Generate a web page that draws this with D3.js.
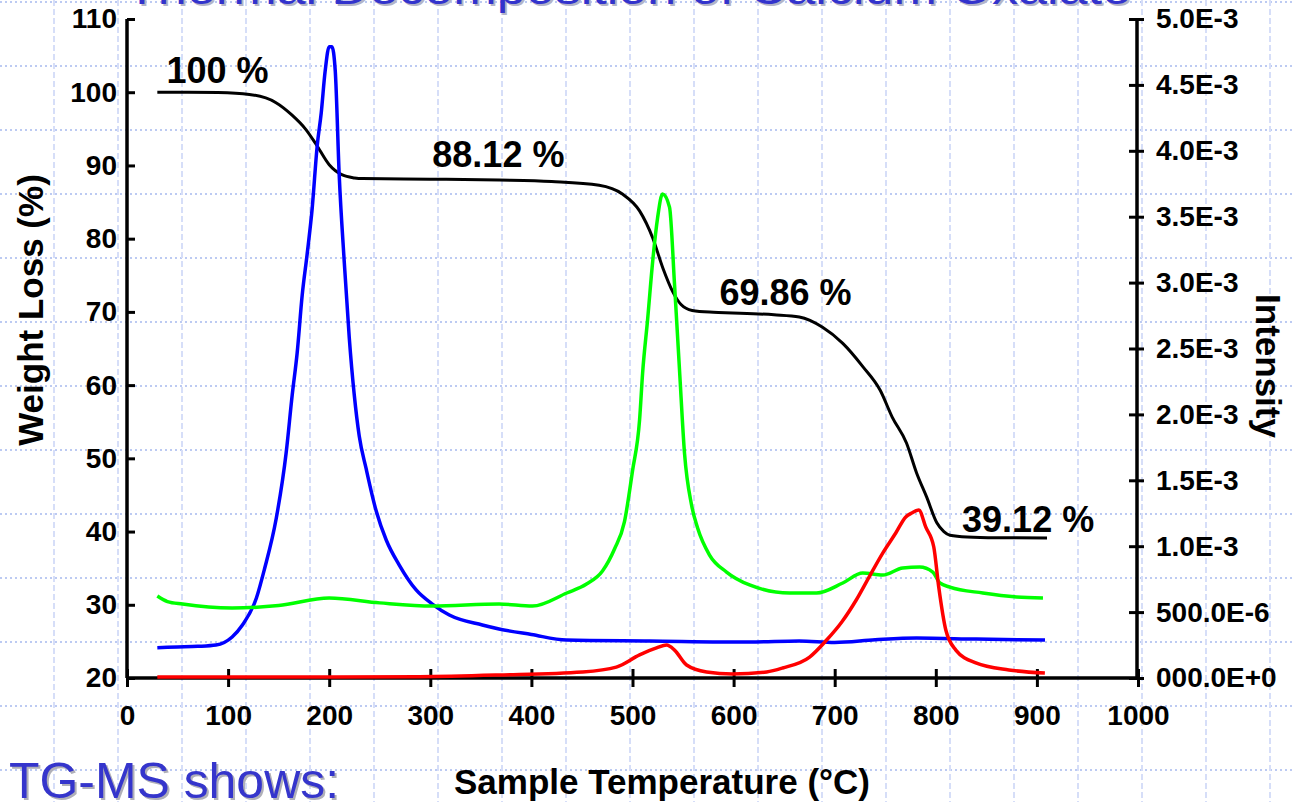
<!DOCTYPE html>
<html>
<head>
<meta charset="utf-8">
<script src="https://cdn.jsdelivr.net/npm/d3@7"></script>
<style>
  body { margin: 0; background: #fff; }
  svg { display: block; }
  text { font-family: "Liberation Sans", Arial, sans-serif; }
  .tick text { font-weight: bold; font-size: 28px; fill: #000; }
  .axis-label { font-weight: bold; font-size: 35px; }
  .pct { font-weight: bold; font-size: 36px; }
</style>
</head>
<body>
<svg id="chart" width="1293" height="802"></svg>
<script>
// TG curve: [temperature °C, weight %]
const tgData = [
  [30, 100.0], [60, 100.0], [90, 99.95], [121, 99.7], [147, 98.6], [163, 96.9],
  [177, 94.9], [187, 92.9], [200, 90.1], [213, 88.7], [225, 88.3], [233, 88.2],
  [300, 88.12], [368, 88.0], [420, 87.8], [467, 87.3], [490, 86.1], [507, 83.8],
  [520, 80.1], [530, 76.0], [540, 72.7], [548, 71.0], [559, 70.2], [580, 69.95],
  [599, 69.86], [640, 69.6], [665, 69.3], [688, 67.9], [708, 65.7], [728, 62.5],
  [745, 59.3], [757, 55.6], [771, 52.1], [781, 48.0], [791, 44.7], [801, 41.2],
  [808, 40.0], [814, 39.5], [831, 39.25], [860, 39.15], [910, 39.12]
];

// MS intensities, in units of 1E-3
const blueData = [
  [30, 0.23], [50, 0.235], [70, 0.24], [88, 0.25], [104, 0.311], [114, 0.40],
  [128, 0.607], [136, 0.827], [147.5, 1.206], [157.4, 1.707], [163.4, 2.147],
  [168.3, 2.466], [173.3, 2.906], [178.2, 3.217], [183.2, 3.566], [188.1, 4.036],
  [192.1, 4.287], [196, 4.605], [200, 4.79], [202.7, 4.79], [206, 4.605],
  [209.9, 3.816], [214.9, 3.156], [219.8, 2.587], [224.8, 2.147], [229.7, 1.836],
  [236.6, 1.586], [246.5, 1.267], [256.4, 1.047], [269.3, 0.857], [286, 0.668],
  [302, 0.561], [318.8, 0.478], [351.5, 0.402], [368, 0.372], [400, 0.33],
  [434.7, 0.288], [516.8, 0.281], [615.8, 0.273], [665, 0.281], [700, 0.27],
  [740, 0.29], [781, 0.303], [840, 0.295], [908, 0.288]
];

const greenData = [
  [30, 0.622], [40, 0.58], [55, 0.561], [104, 0.531], [150, 0.55], [200, 0.607],
  [250, 0.57], [302, 0.546], [368, 0.561], [401, 0.546], [435, 0.645],
  [454.5, 0.713], [470.3, 0.812], [482.2, 0.979], [492, 1.184], [500, 1.571],
  [507, 1.958], [510, 2.314], [515, 2.724], [520, 3.164], [524.8, 3.49],
  [529.7, 3.672], [536.6, 3.573], [541.6, 2.982], [546.5, 2.337], [551.5, 1.7],
  [558.4, 1.313], [564.4, 1.138], [576.2, 0.933], [593, 0.804], [615.8, 0.706],
  [655.4, 0.645], [682, 0.645], [708, 0.721], [727.7, 0.797], [747.5, 0.781],
  [767.3, 0.835], [784, 0.842], [797, 0.804], [804, 0.721], [813.9, 0.69],
  [846.5, 0.645], [880, 0.615], [906, 0.607]
];

const redData = [
  [30, 0.008], [200, 0.008], [289, 0.01], [368, 0.023], [450.5, 0.046], [484, 0.083],
  [507, 0.175], [523.8, 0.228], [533.7, 0.25], [541.6, 0.212], [553.5, 0.099],
  [573.3, 0.046], [599, 0.03], [632.7, 0.046], [648.5, 0.076], [675.2, 0.159],
  [692, 0.288], [707, 0.425], [721.3, 0.592], [734, 0.766], [747.5, 0.948],
  [760.4, 1.1], [770.3, 1.222], [776.2, 1.252], [783.2, 1.275], [790, 1.146],
  [798, 0.994], [802.9, 0.69], [809.9, 0.364], [819.8, 0.212], [839.6, 0.114],
  [872.3, 0.061], [907.9, 0.038]
];

const xTicks = [0, 100, 200, 300, 400, 500, 600, 700, 800, 900, 1000];
const leftTicks = [20, 30, 40, 50, 60, 70, 80, 90, 100, 110];
const rightTicks = [0, 0.5, 1.0, 1.5, 2.0, 2.5, 3.0, 3.5, 4.0, 4.5, 5.0];
const rightTickLabels = ['000.0E+0', '500.0E-6', '1.0E-3', '1.5E-3', '2.0E-3', '2.5E-3',
  '3.0E-3', '3.5E-3', '4.0E-3', '4.5E-3', '5.0E-3'];

const stepLabels = [
  { text: '100 %', t: 39, v: 101.2 },
  { text: '88.12 %', t: 302, v: 89.8 },
  { text: '69.86 %', t: 586, v: 71.0 },
  { text: '39.12 %', t: 826, v: 40.0 }
];

const svg = d3.select('#chart');

// slide background grid
const grid = svg.append('g');
grid.selectAll('line.h')
  .data(d3.range(2, 802, 64))
  .join('line')
  .attr('x1', 0).attr('x2', 1293)
  .attr('y1', d => d).attr('y2', d => d)
  .attr('stroke', '#bccaf2').attr('stroke-width', 2)
  .attr('stroke-dasharray', '2,3');
grid.selectAll('line.v')
  .data(d3.range(54, 1293, 64))
  .join('line')
  .attr('x1', d => d).attr('x2', d => d)
  .attr('y1', 0).attr('y2', 802)
  .attr('stroke', '#d6def8').attr('stroke-width', 2)
  .attr('stroke-dasharray', '6,3');

// title, mostly off the top of the slide
const title = 'Thermal Decomposition of Calcium Oxalate';
svg.append('text')
  .attr('x', 128).attr('y', 6)
  .attr('textLength', 1005).attr('lengthAdjust', 'spacingAndGlyphs')
  .style('font-size', '44px').attr('fill', '#b4b4c8')
  .text(title);
svg.append('text')
  .attr('x', 126).attr('y', 4)
  .attr('textLength', 1005).attr('lengthAdjust', 'spacingAndGlyphs')
  .style('font-size', '44px').attr('fill', '#3333cc')
  .text(title);

// scales
const x = d3.scaleLinear().domain([0, 1000]).range([127, 1138]);
const yL = d3.scaleLinear().domain([20, 110]).range([678, 19]);
const yR = d3.scaleLinear().domain([0, 5]).range([678, 19]);

// axes
const xAxis = svg.append('g')
  .attr('transform', 'translate(0,678)')
  .call(d3.axisBottom(x).tickValues(xTicks).tickSize(9).tickPadding(18)
    .tickFormat(d3.format('d')));
xAxis.selectAll('.tick line').attr('y1', -9);

const leftAxis = svg.append('g')
  .attr('transform', 'translate(127,0)')
  .call(d3.axisLeft(yL).tickValues(leftTicks).tickSize(7).tickPadding(3));
leftAxis.selectAll('.tick line').attr('x2', 8);

const rightAxis = svg.append('g')
  .attr('transform', 'translate(1137,0)')
  .call(d3.axisRight(yR).tickValues(rightTicks).tickSize(7).tickPadding(12)
    .tickFormat((d, i) => rightTickLabels[i]));
rightAxis.selectAll('.tick line').attr('x1', -8);

[xAxis, leftAxis, rightAxis].forEach(a => {
  a.select('.domain').attr('stroke', '#000').attr('stroke-width', 3.5);
  a.selectAll('.tick line').attr('stroke', '#000').attr('stroke-width', 3);
  a.selectAll('.tick text').attr('font-family', null).attr('font-size', null);
});
xAxis.select('.domain').attr('d', 'M127,0H1138');
leftAxis.select('.domain').attr('d', 'M0,678V19');
rightAxis.select('.domain').attr('d', 'M0,678V19');

// axis titles
svg.append('text')
  .attr('class', 'axis-label')
  .attr('x', 662).attr('y', 794)
  .attr('text-anchor', 'middle')
  .text('Sample Temperature (°C)');

svg.append('text')
  .attr('class', 'axis-label')
  .attr('transform', 'translate(43,310) rotate(-90)')
  .attr('text-anchor', 'middle')
  .text('Weight Loss (%)');

svg.append('text')
  .attr('class', 'axis-label')
  .attr('transform', 'translate(1256,366) rotate(90)')
  .attr('text-anchor', 'middle')
  .text('Intensity');

// curves
const lineL = d3.line().x(d => x(d[0])).y(d => yL(d[1])).curve(d3.curveMonotoneX);
const lineR = d3.line().x(d => x(d[0])).y(d => yR(d[1])).curve(d3.curveMonotoneX);

svg.append('path').datum(tgData)
  .attr('d', lineL).attr('fill', 'none')
  .attr('stroke', '#000').attr('stroke-width', 3);

[[blueData, '#0000ff'], [greenData, '#00ff00'], [redData, '#ff0000']].forEach(([data, color]) => {
  svg.append('path').datum(data)
    .attr('d', lineR).attr('fill', 'none')
    .attr('stroke', color).attr('stroke-width', 3.5)
    .attr('stroke-linejoin', 'round');
});

// step labels
svg.selectAll('text.pct')
  .data(stepLabels)
  .join('text')
  .attr('class', 'pct')
  .attr('x', d => x(d.t))
  .attr('y', d => yL(d.v))
  .text(d => d.text);

// footer text from the slide
svg.append('text')
  .attr('x', 11).attr('y', 800)
  .attr('textLength', 330).attr('lengthAdjust', 'spacingAndGlyphs')
  .style('font-size', '50px').attr('fill', '#b0b0b8')
  .text('TG-MS shows:');
svg.append('text')
  .attr('x', 9).attr('y', 798)
  .attr('textLength', 330).attr('lengthAdjust', 'spacingAndGlyphs')
  .style('font-size', '50px').attr('fill', '#3535cc')
  .text('TG-MS shows:');
</script>
</body>
</html>
